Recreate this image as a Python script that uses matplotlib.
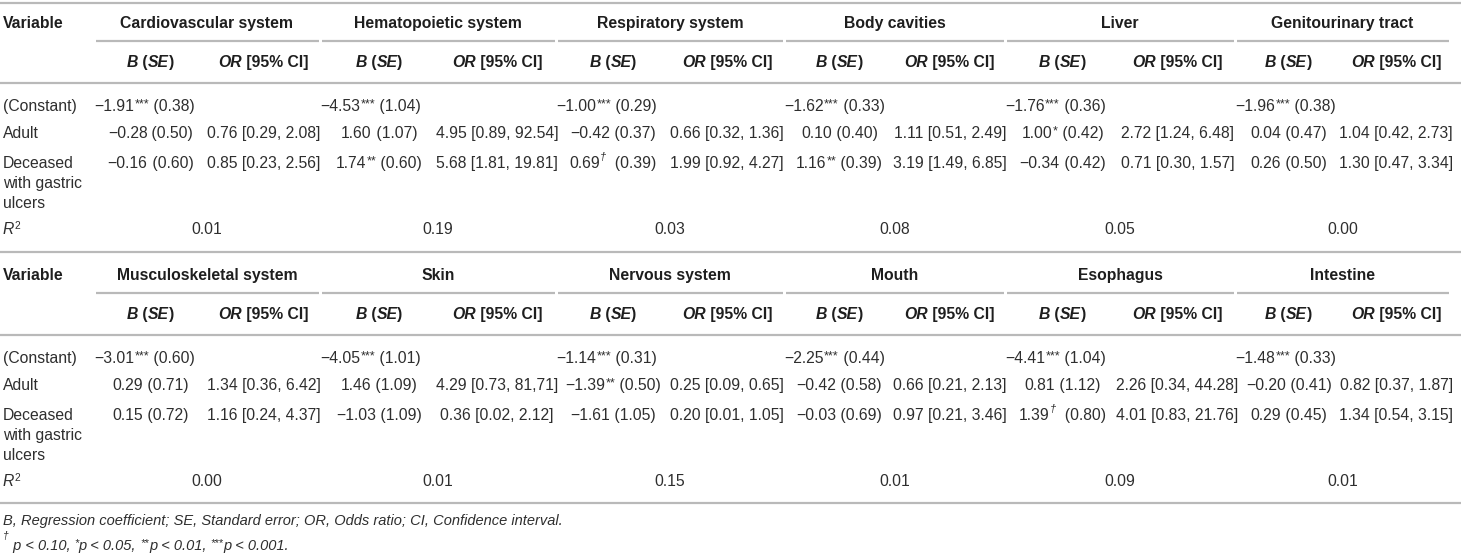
import matplotlib
matplotlib.use("Agg")
import matplotlib.pyplot as plt

# ---------------------------------
# table contents
# ---------------------------------
top_groups = ["Cardiovascular system", "Hematopoietic system", "Respiratory system",
              "Body cavities", "Liver", "Genitourinary tract"]
bottom_groups = ["Musculoskeletal system", "Skin", "Nervous system",
                 "Mouth", "Esophagus", "Intestine"]

const_b = ["−1.91***", "−4.53***", "−1.00***", "−1.62***", "−1.76***", "−1.96***",
           "−3.01***", "−4.05***", "−1.14***", "−2.25***", "−4.41***", "−1.48***"]
const_se = ["0.38", "1.04", "0.29", "0.33", "0.36", "0.38",
            "0.60", "1.01", "0.31", "0.44", "1.04", "0.33"]

adult_b = ["−0.28", "1.60", "−0.42", "0.10", "1.00*", "0.04",
           "0.29", "1.46", "−1.39**", "−0.42", "0.81", "−0.20"]
adult_se = ["0.50", "1.07", "0.37", "0.40", "0.42", "0.47",
            "0.71", "1.09", "0.50", "0.58", "1.12", "0.41"]
adult_or = ["0.76", "4.95", "0.66", "1.11", "2.72", "1.04",
            "1.34", "4.29", "0.25", "0.66", "2.26", "0.82"]
adult_ci = ["0.29, 2.08", "0.89, 92.54", "0.32, 1.36", "0.51, 2.49", "1.24, 6.48", "0.42, 2.73",
            "0.36, 6.42", "0.73, 81,71", "0.09, 0.65", "0.21, 2.13", "0.34, 44.28", "0.37, 1.87"]

dec_b = ["−0.16", "1.74**", "0.69†", "1.16**", "−0.34", "0.26",
         "0.15", "−1.03", "−1.61", "−0.03", "1.39†", "0.29"]
dec_se = ["0.60", "0.60", "0.39", "0.39", "0.42", "0.50",
          "0.72", "1.09", "1.05", "0.69", "0.80", "0.45"]
dec_or = ["0.85", "5.68", "1.99", "3.19", "0.71", "1.30",
          "1.16", "0.36", "0.20", "0.97", "4.01", "1.34"]
dec_ci = ["0.23, 2.56", "1.81, 19.81", "0.92, 4.27", "1.49, 6.85", "0.30, 1.57", "0.47, 3.34",
          "0.24, 4.37", "0.02, 2.12", "0.01, 1.05", "0.21, 3.46", "0.83, 21.76", "0.54, 3.15"]

r2 = ["0.01", "0.19", "0.03", "0.08", "0.05", "0.00",
      "0.00", "0.01", "0.15", "0.01", "0.09", "0.01"]

row_labels = ["(Constant)", "Adult", "Deceased\nwith gastric\nulcers"]

# ---------------------------------
# layout (pixels)
# ---------------------------------
W, H = 1461, 557
edges = [94, 320, 556, 784, 1005, 1235, 1450]
FS = 11.3
TXT = "#2e2e2e"
HEAD = "#1e1e1e"
RULE = "#b9b9b9"
plt.rcParams["font.family"] = ["Liberation Sans", "DejaVu Sans"]

fig = plt.figure(figsize=(W / 100, H / 100), dpi=100)
ax = fig.add_axes([0, 0, 1, 1])
ax.set_xlim(0, W)
ax.set_ylim(H, 0)
ax.axis("off")
renderer = fig.canvas.get_renderer()


def width(s, **kw):
    t = ax.text(0, 0, "|" + s + "|", **kw)
    w1 = t.get_window_extent(renderer).width
    t.remove()
    t = ax.text(0, 0, "||", **kw)
    w0 = t.get_window_extent(renderer).width
    t.remove()
    return w1 - w0


def runs(x, y, pieces, ha="center", size=FS, color=TXT):
    # pieces: (text, style, weight, scale, raise)
    ws = []
    for s, st, wt, sc, dy in pieces:
        ws.append(width(s, fontsize=size * sc, style=st, weight=wt))
    total = sum(ws)
    if ha == "center":
        x0 = x - total / 2
    elif ha == "right":
        x0 = x - total
    else:
        x0 = x
    for (s, st, wt, sc, dy), w in zip(pieces, ws):
        ax.text(x0, y - dy, s, fontsize=size * sc, style=st, weight=wt,
                ha="left", va="baseline", color=color)
        x0 += w


def coef(b, se):
    core = b.rstrip("*†")
    mark = b[len(core):]
    p = [(core, "normal", "normal", 1, 0)]
    if mark == "†":
        p.append(("†", "italic", "normal", 0.7, 8))
        p.append(("  (" + se + ")", "normal", "normal", 1, 0))
    elif mark:
        p.append((mark, "normal", "normal", 0.8, 4))
        p.append((" (" + se + ")", "normal", "normal", 1, 0))
    else:
        p.append((" (" + se + ")", "normal", "normal", 1, 0))
    return p


def block(off, groups, k0):
    # rules
    ax.hlines([off + 83], 0, W, color=RULE, lw=1.6)
    for i in range(6):
        ax.hlines(off + 41, edges[i] + 1.5, edges[i + 1] - 1.5, color=RULE, lw=1.6)
    ax.text(3, off + 28, "Variable", fontsize=FS, weight="bold", color=HEAD,
            ha="left", va="baseline")
    ax.text(3, off + 111, row_labels[0], fontsize=FS, color=TXT, ha="left", va="baseline")
    ax.text(3, off + 138, row_labels[1], fontsize=FS, color=TXT, ha="left", va="baseline")
    for j, line in enumerate(row_labels[2].split("\n")):
        ax.text(3, off + 168 + 20 * j, line, fontsize=FS, color=TXT, ha="left", va="baseline")
    runs(3, off + 234, [("R", "italic", "normal", 1, 0), ("2", "normal", "normal", 0.65, 5)],
         ha="left")
    for i in range(6):
        k = k0 + i
        L, R = edges[i], edges[i + 1]
        mid = (L + R) / 2
        cb, co = (L + mid) / 2, (mid + R) / 2
        ax.text(mid, off + 28, groups[i], fontsize=FS, weight="bold", color=HEAD,
                ha="center", va="baseline")
        runs(cb, off + 67, [("B", "italic", "bold", 1, 0), (" (", "normal", "bold", 1, 0),
                            ("SE", "italic", "bold", 1, 0), (")", "normal", "bold", 1, 0)],
             color=HEAD)
        runs(co, off + 67, [("OR", "italic", "bold", 1, 0),
                            (" [95% CI]", "normal", "bold", 1, 0)], color=HEAD)
        runs(L + 0.5, off + 111, coef(const_b[k], const_se[k]), ha="left")
        runs(cb, off + 138, coef(adult_b[k], adult_se[k]))
        runs(co, off + 138, [(adult_or[k] + " [" + adult_ci[k] + "]", "normal", "normal", 1, 0)])
        runs(cb, off + 168, coef(dec_b[k], dec_se[k]))
        runs(co, off + 168, [(dec_or[k] + " [" + dec_ci[k] + "]", "normal", "normal", 1, 0)])
        ax.text(mid, off + 234, r2[k], fontsize=FS, color=TXT, ha="center", va="baseline")


ax.hlines([3, 252, 503], 0, W, color=RULE, lw=1.6)
block(0, top_groups, 0)
block(252, bottom_groups, 6)

# footnotes
FN = 10.5
ax.text(3, 525, "B, Regression coefficient; SE, Standard error; OR, Odds ratio; "
        "CI, Confidence interval.", fontsize=FN, style="italic", color=TXT,
        ha="left", va="baseline")
runs(3, 550, [("†", "italic", "normal", 0.7, 11),
              (" p < 0.10, ", "italic", "normal", 1, 0),
              ("*", "italic", "normal", 0.75, 4), ("p < 0.05, ", "italic", "normal", 1, 0),
              ("**", "italic", "normal", 0.75, 4), ("p < 0.01, ", "italic", "normal", 1, 0),
              ("***", "italic", "normal", 0.75, 4), ("p < 0.001.", "italic", "normal", 1, 0)],
     ha="left", size=FN)

fig.savefig("out.png", dpi=100)
